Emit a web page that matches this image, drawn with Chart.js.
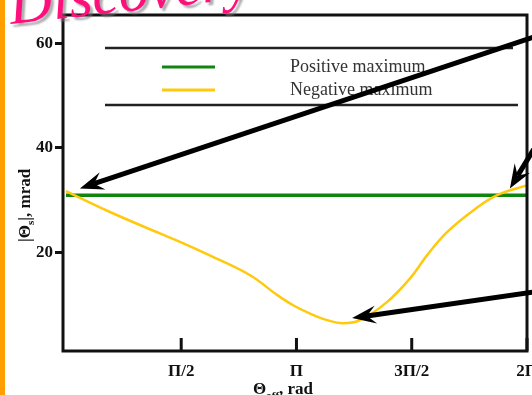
<!DOCTYPE html>
<html>
<head>
<meta charset="utf-8">
<script src="https://cdn.jsdelivr.net/npm/chart.js@4.4.1/dist/chart.umd.min.js"></script>
<style>
  html, body { margin: 0; padding: 0; background: #fff; overflow: hidden; }
  canvas { display: block; }
</style>
</head>
<body>
<canvas id="grafico" width="532" height="395"></canvas>
<script>
// Datos (x en rad, y en mrad)
const offsetAngle = [0, 0.60, 1.28, 1.57, 1.96, 2.51, 2.87, 3.09, 3.32, 3.56, 3.77, 4.01, 4.37, 4.69, 4.92, 5.19, 5.55, 5.87, 6.28];
const negativeMax = [31.7, 27.7, 23.6, 21.9, 19.4, 15.6, 11.9, 9.9, 8.3, 7.0, 6.4, 7.0, 10.4, 15.0, 19.4, 23.8, 28.0, 30.9, 32.8];
const positiveAngle = [0, 6.28];
const positiveMax = [30.9, 30.9];

const seriesNames = ['Positive maximum', 'Negative maximum'];
const xTickValues = [Math.PI / 2, Math.PI, 3 * Math.PI / 2, 2 * Math.PI];
const xTickLabels = ['Π/2', 'Π', '3Π/2', '2Π'];
const yTickValues = [20, 40, 60];

// flechas: punta y cola en unidades de datos
const arrows = [
    { tip: [0.19, 32.2], tail: [6.40, 61.3] },
    { tip: [6.05, 32.2], tail: [6.53, 43.3] },
    { tip: [3.90, 7.4], tail: [6.53, 12.7] }
];

const serif = '"Liberation Serif", "DejaVu Serif", serif';

function dibujarFlecha(ctx, x1, y1, x2, y2) {
    const ang = Math.atan2(y2 - y1, x2 - x1);
    const largo = 24, ancho = 9, muesca = 15;
    ctx.save();
    ctx.strokeStyle = '#000';
    ctx.fillStyle = '#000';
    ctx.lineWidth = 5;
    ctx.beginPath();
    ctx.moveTo(x1, y1);
    ctx.lineTo(x2 - Math.cos(ang) * muesca, y2 - Math.sin(ang) * muesca);
    ctx.stroke();
    ctx.translate(x2, y2);
    ctx.rotate(ang);
    ctx.beginPath();
    ctx.moveTo(0, 0);
    ctx.lineTo(-largo, -ancho);
    ctx.lineTo(-muesca, 0);
    ctx.lineTo(-largo, ancho);
    ctx.closePath();
    ctx.fill();
    ctx.restore();
}

const decorado = {
    id: 'decorado',
    beforeDraw(chart) {
        const ctx = chart.ctx;
        ctx.save();
        ctx.fillStyle = '#fff';
        ctx.fillRect(0, 0, chart.width, chart.height);
        ctx.restore();
    },
    afterDraw(chart) {
        const ctx = chart.ctx;
        const a = chart.chartArea;
        const xs = chart.scales.x, ys = chart.scales.y;
        ctx.save();

        // marco
        ctx.strokeStyle = '#111';
        ctx.lineWidth = 3;
        ctx.strokeRect(a.left, a.top, a.right - a.left, a.bottom - a.top);

        // marcas del eje x hacia adentro
        xTickValues.forEach(v => {
            const px = xs.getPixelForValue(v);
            ctx.beginPath();
            ctx.moveTo(px, a.bottom);
            ctx.lineTo(px, a.bottom - 13);
            ctx.stroke();
        });

        // leyenda
        ctx.strokeStyle = '#222';
        ctx.lineWidth = 2.5;
        ctx.beginPath();
        ctx.moveTo(a.left + 42, a.top + 33);
        ctx.lineTo(a.right - 14, a.top + 33);
        ctx.moveTo(a.left + 42, a.top + 90);
        ctx.lineTo(a.right - 9, a.top + 90);
        ctx.stroke();
        const colores = ['#108510', '#ffc90e'];
        seriesNames.forEach((nombre, i) => {
            const y = a.top + 52 + i * 23;
            ctx.strokeStyle = colores[i];
            ctx.lineWidth = 3;
            ctx.beginPath();
            ctx.moveTo(a.left + 99, y);
            ctx.lineTo(a.left + 152, y);
            ctx.stroke();
            ctx.fillStyle = '#333';
            ctx.font = '18px ' + serif;
            ctx.textBaseline = 'alphabetic';
            ctx.fillText(nombre, a.left + 227, y + 5);
        });

        // titulo eje y
        ctx.fillStyle = '#111';
        ctx.save();
        ctx.translate(30, 242);
        ctx.rotate(-Math.PI / 2);
        ctx.font = 'bold 17px ' + serif;
        let x = 0;
        ctx.fillText('|Θ', x, 0); x += ctx.measureText('|Θ').width;
        ctx.font = 'bold 11px ' + serif;
        ctx.fillText('s', x, 4); x += ctx.measureText('s').width;
        ctx.font = 'bold 17px ' + serif;
        ctx.fillText('|, mrad', x, 0);
        ctx.restore();

        // titulo eje x
        let tx = 253;
        ctx.font = 'bold 17px ' + serif;
        ctx.fillText('Θ', tx, 394); tx += ctx.measureText('Θ').width;
        ctx.font = 'bold 11px ' + serif;
        ctx.fillText('off', tx, 399); tx += ctx.measureText('off').width;
        ctx.font = 'bold 17px ' + serif;
        ctx.fillText(', rad', tx, 394);

        // flechas
        arrows.forEach(f => {
            dibujarFlecha(ctx,
                xs.getPixelForValue(f.tail[0]), ys.getPixelForValue(f.tail[1]),
                xs.getPixelForValue(f.tip[0]), ys.getPixelForValue(f.tip[1]));
        });

        // titulo de la diapositiva (inclinado) y barra naranja
        ctx.save();
        ctx.translate(11, 24);
        ctx.rotate(-0.11);
        ctx.shadowColor = 'rgba(120,120,120,0.6)';
        ctx.shadowOffsetX = 3;
        ctx.shadowOffsetY = 3;
        ctx.shadowBlur = 2;
        ctx.fillStyle = '#ff0f7b';
        ctx.font = 'italic 60px ' + serif;
        ctx.fillText('Discovery', 0, 0);
        ctx.restore();
        ctx.fillStyle = '#ff9f00';
        ctx.fillRect(0, 0, 5, chart.height);

        ctx.restore();
    }
};

const ctx = document.getElementById('grafico').getContext('2d');
const grafico = new Chart(ctx, {
    type: 'line',
    data: {
        datasets: [{
            label: seriesNames[1],
            data: offsetAngle.map((v, i) => ({ x: v, y: negativeMax[i] })),
            borderColor: '#ffc90e',
            borderWidth: 2.5,
            pointRadius: 0,
            tension: 0.4,
            order: 0
        }, {
            label: seriesNames[0],
            data: positiveAngle.map((v, i) => ({ x: v, y: positiveMax[i] })),
            borderColor: '#108510',
            borderWidth: 3.5,
            pointRadius: 0,
            order: 1
        }]
    },
    options: {
        responsive: false,
        animation: false,
        devicePixelRatio: 1,
        layout: { padding: { left: 0, top: 15, right: 5, bottom: 0 } },
        plugins: {
            legend: { display: false },
            tooltip: { enabled: false }
        },
        scales: {
            x: {
                type: 'linear',
                min: -0.04,
                max: 2 * Math.PI,
                afterBuildTicks: s => { s.ticks = xTickValues.map(v => ({ value: v })); },
                afterFit: s => { s.height = 44; s.paddingLeft = 0; s.paddingRight = 0; },
                grid: { display: false, drawTicks: false },
                border: { display: false },
                ticks: {
                    autoSkip: false,
                    maxRotation: 0,
                    padding: 10,
                    color: '#111',
                    font: { family: serif, size: 17, weight: 'bold' },
                    callback: (v, i) => xTickLabels[i]
                }
            },
            y: {
                min: 1.1,
                max: 65.4,
                afterBuildTicks: s => { s.ticks = yTickValues.map(v => ({ value: v })); },
                afterFit: s => { s.width = 63; },
                grid: { drawOnChartArea: false, drawTicks: true, tickLength: 8, tickWidth: 3, tickColor: '#111' },
                border: { display: false },
                ticks: {
                    padding: 2,
                    color: '#111',
                    font: { family: serif, size: 17, weight: 'bold' }
                }
            }
        }
    },
    plugins: [decorado]
});
</script>
</body>
</html>
